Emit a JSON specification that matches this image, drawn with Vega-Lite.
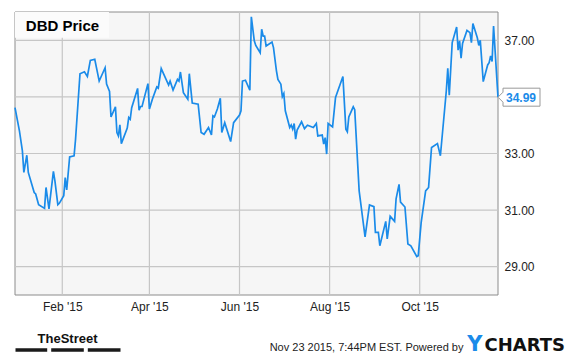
{
  "$schema": "https://vega.github.io/schema/vega-lite/v6.json",
  "width": 483,
  "height": 283,
  "padding": {"left": 11, "top": 11, "right": 0, "bottom": 0},
  "background": "white",
  "config": {
    "view": {"stroke": null},
    "font": "Liberation Sans",
    "axis": {
      "minExtent": 0,
      "domain": false,
      "ticks": false,
      "grid": false,
      "labelFont": "Liberation Sans",
      "labelFontSize": 12,
      "labelColor": "#222222",
      "titleFont": "Liberation Sans",
      "titleColor": "#222222",
      "titleAngle": 0,
      "titleBaseline": "alphabetic"
    }
  },
  "data": {
    "values": [
      {"date": "2014-12-31", "price": 34.62},
      {"date": "2015-01-03", "price": 33.80},
      {"date": "2015-01-05", "price": 33.09},
      {"date": "2015-01-06", "price": 32.33},
      {"date": "2015-01-08", "price": 32.94},
      {"date": "2015-01-09", "price": 32.33},
      {"date": "2015-01-13", "price": 31.62},
      {"date": "2015-01-14", "price": 31.57},
      {"date": "2015-01-16", "price": 31.19},
      {"date": "2015-01-20", "price": 31.06},
      {"date": "2015-01-21", "price": 31.80},
      {"date": "2015-01-23", "price": 31.04},
      {"date": "2015-01-26", "price": 32.37},
      {"date": "2015-01-27", "price": 32.04},
      {"date": "2015-01-29", "price": 31.19},
      {"date": "2015-01-30", "price": 31.24},
      {"date": "2015-02-02", "price": 31.51},
      {"date": "2015-02-03", "price": 32.15},
      {"date": "2015-02-04", "price": 31.71},
      {"date": "2015-02-06", "price": 32.88},
      {"date": "2015-02-09", "price": 32.92},
      {"date": "2015-02-10", "price": 33.51},
      {"date": "2015-02-13", "price": 35.82},
      {"date": "2015-02-16", "price": 35.89},
      {"date": "2015-02-18", "price": 35.72},
      {"date": "2015-02-20", "price": 36.29},
      {"date": "2015-02-23", "price": 36.33},
      {"date": "2015-02-26", "price": 35.56},
      {"date": "2015-03-02", "price": 36.03},
      {"date": "2015-03-03", "price": 35.45},
      {"date": "2015-03-05", "price": 35.19},
      {"date": "2015-03-06", "price": 34.29},
      {"date": "2015-03-09", "price": 34.65},
      {"date": "2015-03-10", "price": 33.74},
      {"date": "2015-03-11", "price": 33.62},
      {"date": "2015-03-12", "price": 34.01},
      {"date": "2015-03-13", "price": 33.35},
      {"date": "2015-03-17", "price": 33.90},
      {"date": "2015-03-18", "price": 34.27},
      {"date": "2015-03-19", "price": 34.21},
      {"date": "2015-03-20", "price": 34.62},
      {"date": "2015-03-24", "price": 35.30},
      {"date": "2015-03-25", "price": 34.53},
      {"date": "2015-03-26", "price": 34.66},
      {"date": "2015-03-27", "price": 34.66},
      {"date": "2015-03-31", "price": 35.47},
      {"date": "2015-04-01", "price": 34.57},
      {"date": "2015-04-03", "price": 34.92},
      {"date": "2015-04-06", "price": 35.35},
      {"date": "2015-04-07", "price": 35.31},
      {"date": "2015-04-09", "price": 36.00},
      {"date": "2015-04-14", "price": 35.42},
      {"date": "2015-04-15", "price": 35.56},
      {"date": "2015-04-17", "price": 35.24},
      {"date": "2015-04-20", "price": 35.62},
      {"date": "2015-04-21", "price": 35.56},
      {"date": "2015-04-22", "price": 35.88},
      {"date": "2015-04-24", "price": 35.15},
      {"date": "2015-04-27", "price": 34.92},
      {"date": "2015-04-28", "price": 35.82},
      {"date": "2015-04-30", "price": 34.78},
      {"date": "2015-05-04", "price": 34.74},
      {"date": "2015-05-06", "price": 33.74},
      {"date": "2015-05-08", "price": 33.68},
      {"date": "2015-05-11", "price": 33.92},
      {"date": "2015-05-13", "price": 33.66},
      {"date": "2015-05-14", "price": 34.33},
      {"date": "2015-05-15", "price": 34.29},
      {"date": "2015-05-17", "price": 34.57},
      {"date": "2015-05-19", "price": 34.95},
      {"date": "2015-05-20", "price": 33.74},
      {"date": "2015-05-22", "price": 34.09},
      {"date": "2015-05-26", "price": 33.42},
      {"date": "2015-05-28", "price": 34.09},
      {"date": "2015-06-01", "price": 34.36},
      {"date": "2015-06-02", "price": 34.51},
      {"date": "2015-06-03", "price": 35.56},
      {"date": "2015-06-05", "price": 35.59},
      {"date": "2015-06-08", "price": 35.24},
      {"date": "2015-06-09", "price": 37.83},
      {"date": "2015-06-11", "price": 36.98},
      {"date": "2015-06-12", "price": 36.82},
      {"date": "2015-06-15", "price": 36.56},
      {"date": "2015-06-16", "price": 37.39},
      {"date": "2015-06-17", "price": 37.15},
      {"date": "2015-06-18", "price": 37.15},
      {"date": "2015-06-19", "price": 36.80},
      {"date": "2015-06-23", "price": 36.94},
      {"date": "2015-06-24", "price": 36.74},
      {"date": "2015-06-26", "price": 35.92},
      {"date": "2015-06-27", "price": 35.62},
      {"date": "2015-06-29", "price": 35.45},
      {"date": "2015-06-30", "price": 35.01},
      {"date": "2015-07-01", "price": 35.12},
      {"date": "2015-07-02", "price": 34.51},
      {"date": "2015-07-05", "price": 33.92},
      {"date": "2015-07-06", "price": 34.01},
      {"date": "2015-07-07", "price": 33.86},
      {"date": "2015-07-08", "price": 34.06},
      {"date": "2015-07-09", "price": 33.51},
      {"date": "2015-07-10", "price": 33.83},
      {"date": "2015-07-13", "price": 34.12},
      {"date": "2015-07-15", "price": 33.88},
      {"date": "2015-07-17", "price": 34.00},
      {"date": "2015-07-21", "price": 33.92},
      {"date": "2015-07-23", "price": 34.06},
      {"date": "2015-07-24", "price": 33.62},
      {"date": "2015-07-27", "price": 33.65},
      {"date": "2015-07-28", "price": 33.33},
      {"date": "2015-07-29", "price": 33.56},
      {"date": "2015-07-30", "price": 32.98},
      {"date": "2015-07-31", "price": 34.06},
      {"date": "2015-08-03", "price": 33.94},
      {"date": "2015-08-05", "price": 34.98},
      {"date": "2015-08-06", "price": 35.13},
      {"date": "2015-08-10", "price": 35.72},
      {"date": "2015-08-12", "price": 33.86},
      {"date": "2015-08-13", "price": 33.77},
      {"date": "2015-08-14", "price": 34.29},
      {"date": "2015-08-17", "price": 34.65},
      {"date": "2015-08-18", "price": 34.55},
      {"date": "2015-08-21", "price": 31.68},
      {"date": "2015-08-25", "price": 30.05},
      {"date": "2015-08-28", "price": 31.18},
      {"date": "2015-08-31", "price": 31.12},
      {"date": "2015-09-01", "price": 30.21},
      {"date": "2015-09-03", "price": 30.21},
      {"date": "2015-09-04", "price": 29.74},
      {"date": "2015-09-08", "price": 30.60},
      {"date": "2015-09-09", "price": 29.98},
      {"date": "2015-09-11", "price": 30.78},
      {"date": "2015-09-14", "price": 30.60},
      {"date": "2015-09-15", "price": 31.40},
      {"date": "2015-09-17", "price": 31.91},
      {"date": "2015-09-18", "price": 31.28},
      {"date": "2015-09-21", "price": 31.11},
      {"date": "2015-09-23", "price": 29.80},
      {"date": "2015-09-25", "price": 29.74},
      {"date": "2015-09-29", "price": 29.36},
      {"date": "2015-09-30", "price": 29.39},
      {"date": "2015-10-02", "price": 30.57},
      {"date": "2015-10-05", "price": 31.68},
      {"date": "2015-10-07", "price": 31.80},
      {"date": "2015-10-09", "price": 33.21},
      {"date": "2015-10-13", "price": 33.35},
      {"date": "2015-10-15", "price": 32.92},
      {"date": "2015-10-19", "price": 35.21},
      {"date": "2015-10-20", "price": 36.01},
      {"date": "2015-10-21", "price": 35.06},
      {"date": "2015-10-23", "price": 36.92},
      {"date": "2015-10-26", "price": 37.47},
      {"date": "2015-10-27", "price": 36.65},
      {"date": "2015-10-28", "price": 36.98},
      {"date": "2015-10-29", "price": 36.37},
      {"date": "2015-10-30", "price": 36.89},
      {"date": "2015-11-02", "price": 37.35},
      {"date": "2015-11-04", "price": 37.27},
      {"date": "2015-11-05", "price": 36.92},
      {"date": "2015-11-06", "price": 37.59},
      {"date": "2015-11-09", "price": 37.09},
      {"date": "2015-11-10", "price": 36.82},
      {"date": "2015-11-11", "price": 37.00},
      {"date": "2015-11-13", "price": 35.54},
      {"date": "2015-11-16", "price": 36.13},
      {"date": "2015-11-17", "price": 36.21},
      {"date": "2015-11-18", "price": 36.45},
      {"date": "2015-11-19", "price": 36.25},
      {"date": "2015-11-20", "price": 37.50},
      {"date": "2015-11-23", "price": 34.99}
    ]
  },
  "resolve": {"axis": {"x": "independent", "y": "independent"}},
  "layer": [
    {
      "data": {"values": [{"panel": "plot"}]},
      "mark": {"type": "rect", "fill": "#f6f6f6", "stroke": "#8c8c8c", "strokeWidth": 1},
      "encoding": {
        "x": {
          "datum": {"year": 2014, "month": 12, "date": 31, "utc": true},
          "type": "temporal",
          "scale": {"type": "utc", "nice": false, "domain": [{"year": 2014, "month": 12, "date": 31, "utc": true}, {"year": 2015, "month": 11, "date": 23, "utc": true}]},
          "axis": null
        },
        "x2": {"datum": {"year": 2015, "month": 11, "date": 23, "utc": true}},
        "y": {
          "datum": 28,
          "type": "quantitative",
          "scale": {"domain": [28, 38], "nice": false, "zero": false},
          "axis": {
            "orient": "right",
            "zindex": 1,
            "labels": false,
            "values": [29, 31, 33, 35, 37],
            "title": "DBD Price",
            "titleX": -472.7,
            "titleY": 18.3,
            "titleAlign": "left",
            "titleFont": "Liberation Sans",
            "titleFontSize": 15,
            "titleFontWeight": "bold",
            "titleColor": "#000000"
          }
        },
        "y2": {"datum": 38}
      }
    },
    {
      "data": {"values": [{"level": 29}, {"level": 31}, {"level": 33}, {"level": 35}, {"level": 37}]},
      "mark": {"type": "rule", "color": "#c6c6c6", "strokeWidth": 1.2, "opacity": 1},
      "encoding": {
        "y": {"field": "level", "type": "quantitative", "scale": {"domain": [28, 38], "nice": false, "zero": false}, "axis": null}
      }
    },
    {
      "data": {"values": [{"tick": "2015-02-01"}, {"tick": "2015-04-01"}, {"tick": "2015-06-01"}, {"tick": "2015-08-01"}, {"tick": "2015-10-01"}]},
      "mark": {"type": "rule", "color": "#c6c6c6", "strokeWidth": 1.2, "opacity": 1},
      "encoding": {
        "x": {"field": "tick", "type": "temporal", "scale": {"type": "utc", "nice": false, "domain": [{"year": 2014, "month": 12, "date": 31, "utc": true}, {"year": 2015, "month": 11, "date": 23, "utc": true}]}, "axis": null}
      }
    },
    {
      "data": {"values": [{"panel": "title box"}]},
      "mark": {"type": "rect", "fill": "#fbfbfb"},
      "encoding": {
        "x": {
          "datum": {"year": 2014, "month": 12, "date": 31, "utc": true},
          "type": "temporal",
          "scale": {"type": "utc", "nice": false, "domain": [{"year": 2014, "month": 12, "date": 31, "utc": true}, {"year": 2015, "month": 11, "date": 23, "utc": true}]},
          "axis": {
            "orient": "bottom",
            "offset": 54.5,
            "labels": false,
            "domain": true,
            "domainColor": "#1a1a1a",
            "domainWidth": 3.4,
            "domainDash": [31.7, 4, 32.6, 4, 32.7, 1000],
            "title": "TheStreet",
            "titleX": 52,
            "titleY": -7.5,
            "titleAlign": "center",
            "titleFont": "Liberation Sans",
            "titleFontSize": 13,
            "titleFontWeight": "bold",
            "titleColor": "#111111"
          }
        },
        "x2": {"datum": {"year": 2015, "month": 3, "date": 4, "hours": 15, "utc": true}},
        "y": {
          "datum": 38,
          "type": "quantitative",
          "scale": {"domain": [28, 38], "nice": false, "zero": false},
          "axis": {
            "orient": "left",
            "labels": false,
            "title": "CHARTS",
            "titleX": 469,
            "titleY": 338.3,
            "titleAlign": "left",
            "titleFont": "DejaVu Sans",
            "titleFontSize": 18,
            "titleFontWeight": "bold",
            "titleColor": "#111111"
          }
        },
        "y2": {"datum": 37.09}
      }
    },
    {
      "mark": {"type": "line", "color": "#1a8be9", "strokeWidth": 1.7},
      "encoding": {
        "x": {
          "field": "date",
          "type": "temporal",
          "scale": {"type": "utc", "nice": false, "domain": [{"year": 2014, "month": 12, "date": 31, "utc": true}, {"year": 2015, "month": 11, "date": 23, "utc": true}]},
          "axis": {
            "orient": "bottom",
            "values": [
              {"year": 2015, "month": 2, "date": 1, "utc": true},
              {"year": 2015, "month": 4, "date": 1, "utc": true},
              {"year": 2015, "month": 6, "date": 1, "utc": true},
              {"year": 2015, "month": 8, "date": 1, "utc": true},
              {"year": 2015, "month": 10, "date": 1, "utc": true}
            ],
            "format": "%b '%y",
            "labelPadding": 6,
            "labelOverlap": false,
            "labelFlush": false,
            "title": "Nov 23 2015, 7:44PM EST.  Powered by",
            "titleX": 448,
            "titleY": 55.3,
            "titleAlign": "right",
            "titleFontSize": 11,
            "titleFontWeight": "normal"
          }
        },
        "y": {
          "field": "price",
          "type": "quantitative",
          "scale": {"domain": [28, 38], "nice": false, "zero": false},
          "axis": {
            "orient": "right",
            "values": [29, 31, 33, 35, 37],
            "format": ".2f",
            "labelPadding": 6,
            "labelOverlap": false,
            "title": null
          }
        }
      }
    },
    {
      "transform": [{"filter": {"field": "date", "equal": {"year": 2015, "month": 11, "date": 23, "utc": true}}}],
      "mark": {"type": "point", "shape": "M0,0L5,-5L5,-9L42,-9L42,9L5,9L5,5Z", "size": 4, "filled": true, "fill": "#ffffff", "stroke": "#999999", "strokeWidth": 1, "opacity": 1},
      "encoding": {
        "x": {
          "field": "date",
          "type": "temporal",
          "scale": {"type": "utc", "nice": false, "domain": [{"year": 2014, "month": 12, "date": 31, "utc": true}, {"year": 2015, "month": 11, "date": 23, "utc": true}]},
          "axis": {
            "orient": "top",
            "labels": false,
            "title": "Y",
            "titleX": 451.7,
            "titleY": 338.3,
            "titleAlign": "left",
            "titleFont": "DejaVu Sans",
            "titleFontSize": 21,
            "titleFontWeight": "bold",
            "titleColor": "#1a8be9"
          }
        },
        "y": {"field": "price", "type": "quantitative", "scale": {"domain": [28, 38], "nice": false, "zero": false}, "axis": null}
      }
    },
    {
      "transform": [{"filter": {"field": "date", "equal": {"year": 2015, "month": 11, "date": 23, "utc": true}}}],
      "mark": {"type": "text", "align": "left", "baseline": "middle", "dx": 8, "dy": 0.5, "font": "Liberation Sans", "fontSize": 12, "fontWeight": "bold", "color": "#1a8be9"},
      "encoding": {
        "x": {"field": "date", "type": "temporal", "scale": {"type": "utc", "nice": false, "domain": [{"year": 2014, "month": 12, "date": 31, "utc": true}, {"year": 2015, "month": 11, "date": 23, "utc": true}]}, "axis": null},
        "y": {"field": "price", "type": "quantitative", "scale": {"domain": [28, 38], "nice": false, "zero": false}, "axis": null},
        "text": {"field": "price", "type": "quantitative", "format": ".2f"}
      }
    }
  ]
}
